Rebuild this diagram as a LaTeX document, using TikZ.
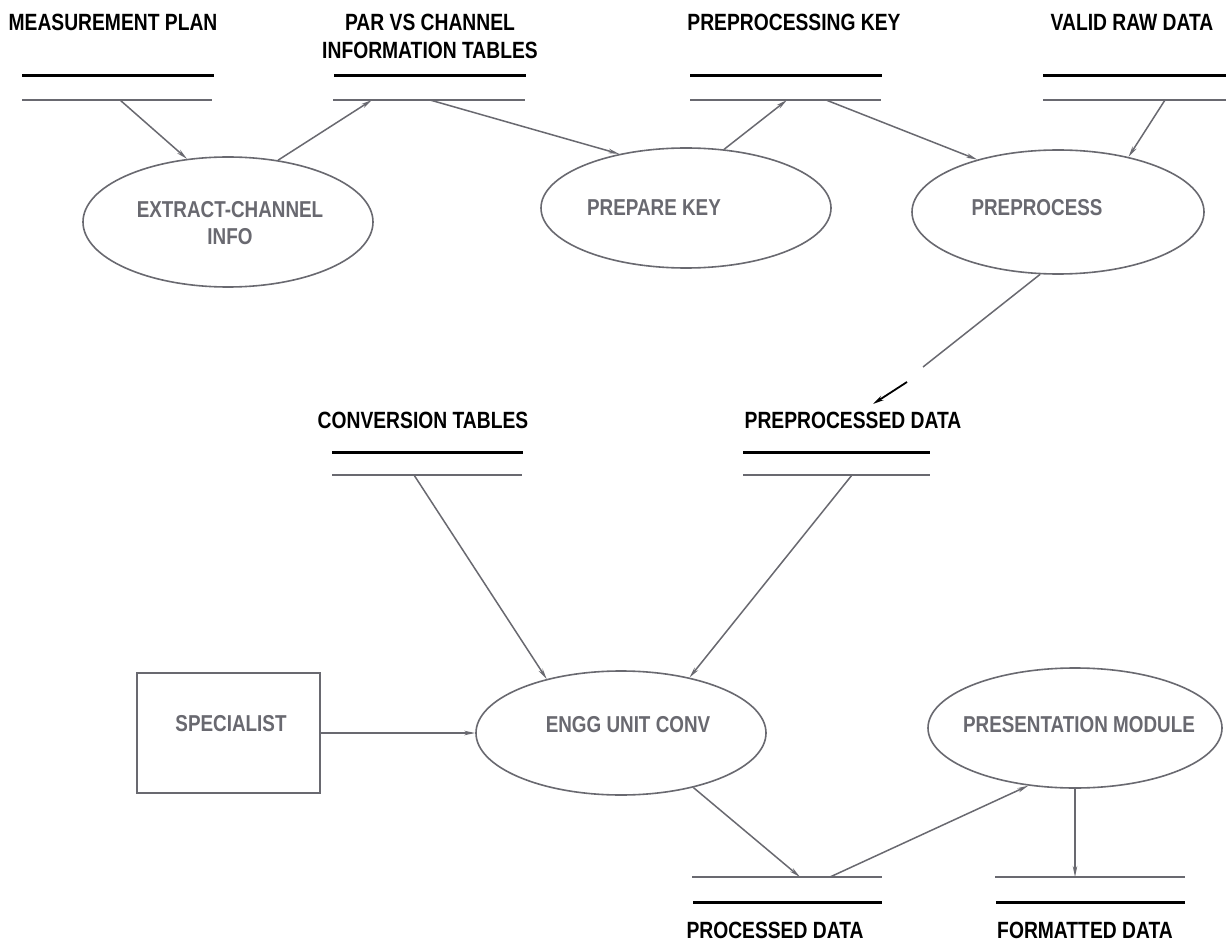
\documentclass[tikz,border=0pt]{standalone}
\usepackage{fontspec}
\newfontfamily\plotfont{Liberation Sans}[FakeStretch=0.82]
\usetikzlibrary{shapes.geometric,arrows.meta}
\definecolor{gc}{RGB}{105,105,112}
\tikzset{
  blk/.style={black, line width=3pt},
  gry/.style={gc, line width=2.4pt},
  lbl/.style={inner sep=0pt, text=black, font=\plotfont\bfseries\fontsize{23.5}{28}\selectfont, align=center},
  ptxt/.style={inner sep=0pt, text=gc, font=\plotfont\bfseries\fontsize{23}{27}\selectfont, align=center},
  proc/.style={ellipse, draw=gc, line width=1.6pt, minimum width=290pt, minimum height=124pt, inner sep=0pt},
  extbox/.style={rectangle, draw=gc, line width=1.6pt, minimum width=183pt, minimum height=120pt, inner sep=0pt},
  conn/.style={gc, line width=1.5pt, -{Stealth[length=11pt,width=4.5pt]}},
  plain/.style={gc, line width=1.5pt},
  blkarrow/.style={black, line width=1.8pt, -{Stealth[length=11pt,width=5pt]}}
}
\begin{document}
\begin{tikzpicture}[x=1pt,y=-1pt]
\useasboundingbox (0,0) rectangle (1226,941);
\fill[white] (0,0) rectangle (1226,941);

% ---------- data stores ----------
\draw[blk] (22,76) -- (214,76);   \draw[gry] (22,100) -- (212,100);
\draw[blk] (334,76) -- (526,76);  \draw[gry] (333,100) -- (525,100);
\draw[blk] (690,76) -- (882,76);  \draw[gry] (690,100) -- (881,100);
\draw[blk] (1043,76) -- (1226,76); \draw[gry] (1043,100) -- (1226,100);
\draw[blk] (332,452) -- (523,452); \draw[gry] (332,475) -- (522,475);
\draw[blk] (743,452) -- (930,452); \draw[gry] (743,475) -- (930,475);
\draw[gry] (692,877) -- (882,877); \draw[blk] (693,902) -- (882,902);
\draw[gry] (995,877) -- (1185,877); \draw[blk] (996,902) -- (1185,902);

% store labels
\node[lbl] (lmp) at (113,22.5) {MEASUREMENT PLAN};
\node[lbl] (lpar) at (430,36) {PAR VS CHANNEL\\INFORMATION TABLES};
\node[lbl] (lpk) at (794,22.5) {PREPROCESSING KEY};
\node[lbl] (lvr) at (1132,22.5) {VALID RAW DATA};
\node[lbl] (lct) at (423,420) {CONVERSION TABLES};
\node[lbl] (lpd) at (853,420) {PREPROCESSED DATA};
\node[lbl] (lprd) at (775,930) {PROCESSED DATA};
\node[lbl] (lfd) at (1085,930) {FORMATTED DATA};

% connector end points on the stores
\coordinate (mpo) at (120,100);
\coordinate (pari) at (372,100);
\coordinate (paro) at (430,100);
\coordinate (pki) at (787,100);
\coordinate (pko) at (826,100);
\coordinate (vro) at (1165,100);
\coordinate (pdbreak) at (923,367);
\coordinate (pdres) at (907,382);
\coordinate (pdi) at (873,404);
\coordinate (cto) at (414,475);
\coordinate (pdo) at (852,475);
\coordinate (prdi) at (800,877);
\coordinate (prdo) at (830,877);
\coordinate (fdi) at (1075,877);

% ---------- processes ----------
\node[proc, minimum height=130pt] (ext) at (228,222) {};
\node[proc, minimum height=120pt] (prep) at (686,208) {};
\node[proc, minimum width=292pt] (pre) at (1058,212) {};
\node[proc] (engg) at (621,733) {};
\node[proc, minimum width=294pt, minimum height=120pt] (pres) at (1075,728) {};
\node[extbox] (spec) at (228.5,733) {};

\node[ptxt] (text) at (230,223) {EXTRACT-CHANNEL\\INFO};
\node[ptxt] (tprep) at (654,208) {PREPARE KEY};
\node[ptxt] (tpre) at (1037,208) {PREPROCESS};
\node[ptxt] (tengg) at (628,725) {ENGG UNIT CONV};
\node[ptxt] (tpres) at (1079,725) {PRESENTATION MODULE};
\node[ptxt] (tspec) at (231,724) {SPECIALIST};

% ---------- connectors ----------
\draw[conn] (mpo) -- (ext.123.5);
\draw[conn] (ext.51.3) -- (pari);
\draw[conn] (paro) -- (prep.141.8);
\draw[conn] (prep.57.9) -- (pki);
\draw[conn] (pko) -- (pre.147.6);
\draw[conn] (vro) -- (pre.38);
\draw[plain] (pre.254.7) -- (pdbreak);
\draw[blkarrow] (pdres) -- (pdi);
\draw[conn] (cto) -- (engg.144);
\draw[conn] (pdo) -- (engg.39.4);
\draw[conn] (spec.east) -- (engg.west);
\draw[conn] (engg.323.9) -- (prdi);
\draw[conn] (prdo) -- (pres.231.7);
\draw[conn] (pres.south) -- (fdi);
\end{tikzpicture}
\end{document}
